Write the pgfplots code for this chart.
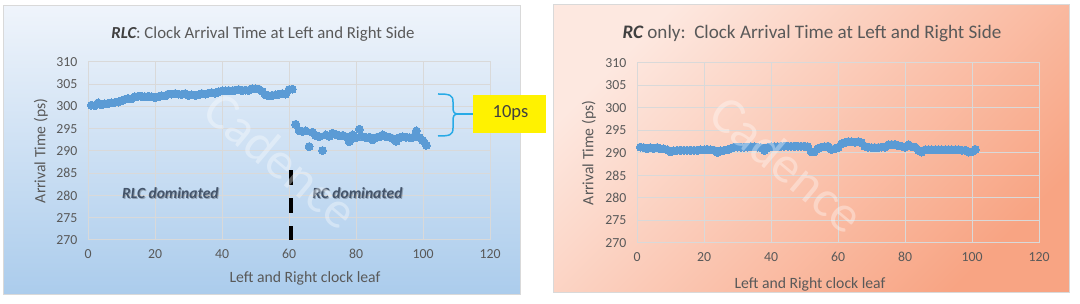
\documentclass[border=0pt]{standalone}
\usepackage{pgfplots}
\pgfplotsset{compat=1.18}
\usepackage{fontspec}
\setmainfont{Carlito}
\newcommand\fs[1]{\fontsize{#1}{#1}\selectfont}
\definecolor{tick}{HTML}{595959}
\definecolor{ttl}{HTML}{404040}
\definecolor{grd}{HTML}{D9D9D9}
\definecolor{mk}{HTML}{5B9BD5}
\definecolor{dom}{HTML}{44546A}
\definecolor{brc}{RGB}{40,170,230}
\definecolor{bluetop}{HTML}{EFF4FB}
\definecolor{bluebot}{HTML}{ABCCEC}
\definecolor{pinktop}{HTML}{FDE8E0}
\definecolor{pinkbot}{HTML}{F8A483}

\pgfplotstableread{
x y
1 300.3
2 300.2
3 300.8
4 300.4
5 300.6
6 300.7
7 300.8
8 300.9
9 301.0
10 301.3
11 301.6
12 301.8
13 301.7
14 302.2
15 302.3
16 302.3
17 302.2
18 302.3
19 302.2
20 302.0
21 302.2
22 302.4
23 302.4
24 302.8
25 302.8
26 302.9
27 302.8
28 302.7
29 302.9
30 302.5
31 302.6
32 302.5
33 302.6
34 302.9
35 302.8
36 303.0
37 303.1
38 303.0
39 303.3
40 303.5
41 303.5
42 303.6
43 303.5
44 303.7
45 303.8
46 303.6
47 303.7
48 303.6
49 304.0
50 304.0
51 303.9
52 303.4
53 302.6
54 302.4
55 302.5
56 302.6
57 302.8
58 302.9
59 302.8
60 303.8
61 303.9
62 296.0
63 294.6
64 294.4
65 294.5
66 291.0
67 294.2
68 293.5
69 293.2
70 290.1
71 293.6
72 293.3
73 294.0
74 293.7
75 293.4
76 293.5
77 293.2
78 292.1
79 293.6
80 293.0
81 294.9
82 293.2
83 293.0
84 293.1
85 292.5
86 293.0
87 293.2
88 293.6
89 293.2
90 293.1
91 292.8
92 292.2
93 293.0
94 293.2
95 293.1
96 293.0
97 293.1
98 294.5
99 293.0
100 292.3
101 291.3
}\rlc

\pgfplotstableread{
x y
1 291.3
2 291.2
3 291.0
4 291.2
5 291.0
6 291.2
7 290.9
8 290.9
9 290.7
10 290.3
11 290.5
12 290.6
13 290.6
14 290.6
15 290.6
16 290.6
17 290.6
18 290.6
19 290.7
20 290.7
21 290.8
22 290.7
23 290.6
24 290.1
25 290.5
26 290.6
27 290.7
28 291.0
29 291.3
30 291.3
31 291.3
32 291.3
33 291.3
34 291.4
35 291.4
36 291.3
37 291.2
38 290.6
39 291.2
40 291.4
41 291.4
42 291.4
43 291.5
44 291.5
45 291.5
46 291.5
47 291.5
48 291.5
49 291.5
50 291.5
51 291.4
52 290.3
53 290.3
54 291.0
55 291.3
56 291.4
57 291.5
58 290.8
59 290.9
60 291.2
61 292.0
62 292.3
63 292.5
64 292.5
65 292.4
66 292.5
67 292.3
68 291.5
69 291.3
70 291.2
71 291.2
72 291.2
73 291.3
74 291.3
75 291.8
76 291.9
77 291.9
78 291.6
79 291.5
80 291.3
81 291.8
82 291.4
83 291.3
84 290.6
85 290.2
86 290.7
87 290.7
88 290.7
89 290.7
90 290.7
91 290.7
92 290.7
93 290.7
94 290.7
95 290.7
96 290.7
97 290.6
98 290.6
99 290.2
100 290.3
101 290.8
}\rconly

\pgfplotsset{
  panel/.style={
    scale only axis,
    width=402pt,
    xmin=0, xmax=120, ymin=270, ymax=310,
    xtick={0,20,...,120},
    ytick={270,275,...,310},
    grid=major,
    major grid style={draw=grd, line width=1pt},
    axis line style={draw=grd, line width=1pt},
    major tick length=0pt,
    tick label style={font=\fs{13.8}, text=tick},
    /pgf/number format/assume math mode=true,
    xticklabel style={yshift=-6pt},
    yticklabel style={xshift=-7pt},
  },
  pts/.style={color=mk, only marks, mark=*, mark size=4pt, mark options={fill=mk, draw=mk, line width=0pt}},
}

\begin{document}
\begin{tikzpicture}
\path[use as bounding box] (0pt,0pt) rectangle (1080pt,304pt);
\begin{scope}[x=1pt,y=1pt]
  \shade[top color=bluetop, bottom color=bluebot] (3,9) rectangle (520,298);
  \draw[grd, line width=1pt] (3,9) rectangle (520,298);
  \shade[top color=pinktop, bottom color=pinkbot, shading angle=45] (553,11) rectangle (1069,299);
  \draw[grd, line width=1pt] (553,11) rectangle (1069,299);
\end{scope}

\begin{axis}[panel, at={(88pt,64pt)}, anchor=south west, height=178pt]
  \addplot[pts] table[x=x,y=y] {\rlc};
  \addplot[black, line width=4pt, dash pattern=on 15pt off 13pt] coordinates {(60.6,285.7) (60.6,270)};
  \node[font=\fs{15.5}\bfseries\itshape, text=black, opacity=0.25] at ([shift={(1pt,-1pt)}]axis cs:24.6,280.6) {RLC dominated};
  \node[font=\fs{15.5}\bfseries\itshape, text=dom] at (axis cs:24.6,280.6) {RLC dominated};
  \node[font=\fs{15.5}\bfseries\itshape, text=black, opacity=0.25] at ([shift={(1pt,-1pt)}]axis cs:80.4,280.6) {RC dominated};
  \node[font=\fs{15.5}\bfseries\itshape, text=dom] at (axis cs:80.4,280.6) {RC dominated};
\end{axis}

\begin{axis}[panel, at={(637pt,61pt)}, anchor=south west, height=180pt]
  \addplot[pts] table[x=x,y=y] {\rconly};
\end{axis}

\begin{scope}[x=1pt,y=1pt]
  % titles
  \node[font=\fs{16.8}, text=tick] at (263,269.5) {{\bfseries\itshape\color{ttl}RLC}: Clock Arrival Time at Left and Right Side};
  \node[font=\fs{19.1}, text=tick] at (812,270) {{\bfseries\itshape\color{ttl}RC} only:\ \ Clock Arrival Time at Left and Right Side};
  % axis labels
  \node[font=\fs{15.7}, text=tick, rotate=90] at (41,153) {Arrival Time (ps)};
  \node[font=\fs{15.7}, text=tick] at (305,26) {Left and Right clock leaf};
  \node[font=\fs{15.7}, text=tick, rotate=90] at (589,151) {Arrival Time (ps)};
  \node[font=\fs{15.7}, text=tick] at (810,20) {Left and Right clock leaf};
  % brace and box
  \draw[brc, line width=1.5pt] (438,210) .. controls (450,210) and (453,209) .. (453,202) -- (453,197)
     .. controls (453,192) and (454,190) .. (458,190)
     .. controls (454,190) and (453,188) .. (453,183) -- (453,176)
     .. controls (453,169) and (450,168) .. (438,168);
  \draw[brc, line width=1.5pt] (458,190) -- (473,190);
  \fill[yellow] (473,171) rectangle (546,209);
  \node[font=\fs{18.5}, text=ttl] at (510.5,191) {10ps};
  % watermarks
  \node[font=\fs{52}, text=white, opacity=0.35, rotate=-40] at (281,144) {Cadence};
  \node[font=\fs{52}, text=white, opacity=0.35, rotate=-40] at (787,140) {Cadence};
\end{scope}
\end{tikzpicture}
\end{document}
